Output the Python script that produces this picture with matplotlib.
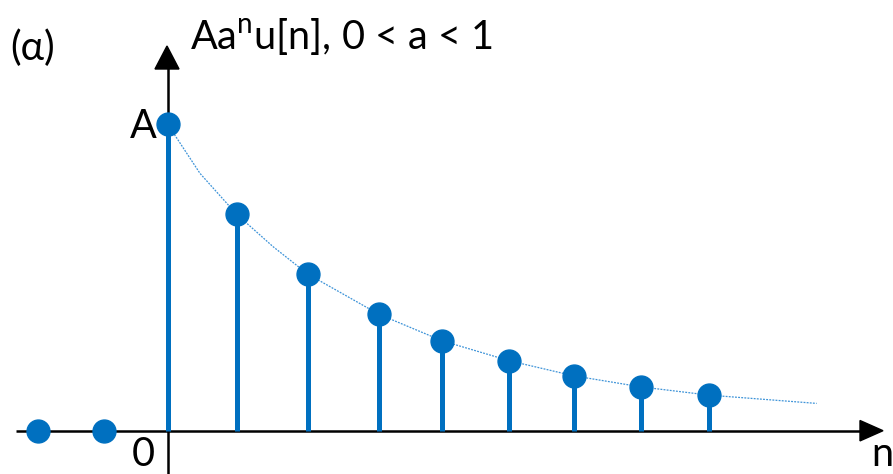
import matplotlib
matplotlib.use("Agg")
import matplotlib.pyplot as plt
from matplotlib.patches import Polygon

# ---- data ----
n_pos = [-1.92, -0.94, 0.0, 1.02, 2.07, 3.12, 4.06, 5.05, 6.0, 6.99, 8.0]
values = [0.0, 0.0, 1.0, 0.706, 0.511, 0.380, 0.293, 0.228, 0.179, 0.143, 0.116]
curve_n = [0.0, 0.48, 1.02, 1.56, 2.07, 3.12, 4.06, 5.05, 6.0, 6.99, 8.0, 9.59]
curve_y = [1.0, 0.839, 0.706, 0.60, 0.511, 0.380, 0.293, 0.228, 0.179, 0.143, 0.116, 0.089]
title = "Aa$^{\\mathregular{n}}$u[n], 0 < a < 1"
panel = "(α)"

W, H = 893, 474
fig = plt.figure(figsize=(W / 100, H / 100), dpi=100)
ax = fig.add_axes([0, 0, 1, 1])
ax.axis("off")

# pixel <-> data mapping
x0px, xs = 167.5, 67.69
y0px, ys = 430.7, 306.7
def px(x, y):
    return ((x - x0px) / xs, (y0px - y) / ys)

ax.set_xlim(px(0, 0)[0], px(W, 0)[0])
ax.set_ylim(px(0, H)[1], px(0, 0)[1])

plt.rcParams["font.family"] = ["Lato", "DejaVu Sans"]
plt.rcParams["mathtext.fontset"] = "custom"
plt.rcParams["mathtext.rm"] = "Lato"

blue = "#0070C0"
fs = 28.5

# axes lines
ax.plot([px(16, 0)[0], px(862, 0)[0]], [0, 0], color="black", lw=1.8, zorder=1, solid_capstyle="butt")
ax.plot([0, 0], [px(0, H)[1], px(0, 68)[1]], color="black", lw=1.8, zorder=1, solid_capstyle="butt")
# arrow heads
hx = [px(883, 430.7), px(860, 420.5), px(860, 440.9)]
ax.add_patch(Polygon(hx, closed=True, color="black", zorder=1))
vx = [px(167, 46), px(155, 69), px(179, 69)]
ax.add_patch(Polygon(vx, closed=True, color="black", zorder=1))

# dotted curve
ax.plot(curve_n, curve_y, color="#3d93d8", lw=0.9, ls=(0, (1.5, 1.0)), zorder=2)

# stems
ax.vlines(n_pos, 0, values, color=blue, lw=3.6, zorder=3)
ax.plot(n_pos, values, "o", color=blue, ms=16.5, mec=blue, zorder=4)

# text
ax.text(*px(10, 48), panel, fontsize=fs, ha="left", va="center", color="black")
ax.text(*px(190, 49), title, fontsize=fs, ha="left", va="baseline", color="black")
ax.text(*px(157, 126), "A", fontsize=fs, ha="right", va="center", color="black")
ax.text(*px(155, 473), "0", fontsize=fs, ha="right", va="bottom", color="black")
ax.text(*px(882, 473), "n", fontsize=fs, ha="center", va="bottom", color="black")

fig.savefig("out.png", dpi=100)
